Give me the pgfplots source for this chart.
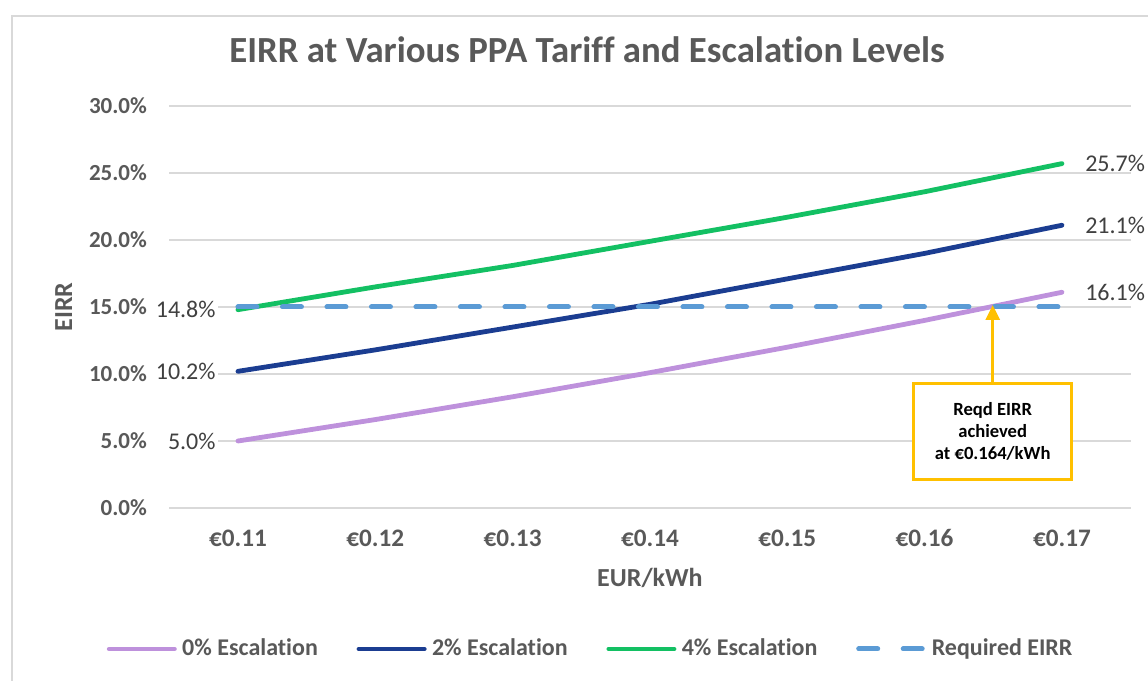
\documentclass[border=0pt]{standalone}
\usepackage{fontspec}
\setmainfont{Carlito}[Ligatures=NoCommon]
\usepackage{pgfplots}
\pgfplotsset{compat=1.18}
\usetikzlibrary{arrows.meta}
\definecolor{cP}{HTML}{BE91DC}
\definecolor{cB}{HTML}{1B3D91}
\definecolor{cG}{HTML}{13C063}
\definecolor{cR}{HTML}{5B9BD5}
\definecolor{txt}{HTML}{595959}
\definecolor{lbl}{HTML}{404040}
\definecolor{grd}{HTML}{D9D9D9}
\definecolor{ybox}{HTML}{FFC000}
\begin{document}
\begin{tikzpicture}
\useasboundingbox (0pt,0pt) rectangle (574pt,340.5pt);
\draw[grd, line width=1pt] (6pt,-5pt) -- (6pt,332.5pt) -- (590pt,332.5pt);
\begin{axis}[
  at={(84.65pt,86.5pt)}, anchor=south west,
  scale only axis, width=480.65pt, height=201pt,
  xmin=0.105, xmax=0.175, ymin=0, ymax=30,
  clip=false,
  axis line style={draw=none},
  major tick length=0pt,
  ymajorgrids, grid style={grd, line width=0.75pt},
  xtick={0.11,0.12,0.13,0.14,0.15,0.16,0.17},
  xticklabels={€0.11,€0.12,€0.13,€0.14,€0.15,€0.16,€0.17},
  ytick={0,5,10,15,20,25,30},
  yticklabels={0.0\%,5.0\%,10.0\%,15.0\%,20.0\%,25.0\%,30.0\%},
  yticklabel style={font=\bfseries\fontsize{11.5}{13}\selectfont, text=txt, inner sep=0pt, xshift=-11pt},
  xticklabel style={font=\bfseries\fontsize{12.6}{14}\selectfont, text=txt, inner sep=0pt, anchor=base, yshift=-19.3pt},
  title={EIRR at Various PPA Tariff and Escalation Levels},
  title style={at={(axis description cs:0.4345,1.0777)}, anchor=base, xshift=0pt, yshift=0pt, font=\bfseries\fontsize{18.4}{21}\selectfont, text=txt, inner sep=0pt},
  xlabel={EUR/kWh},
  xlabel style={at={(axis description cs:0.5,-0.1741)}, anchor=center, xshift=0pt, yshift=0pt, font=\bfseries\fontsize{13}{15}\selectfont, text=txt, inner sep=0pt},
  legend columns=4,
  legend style={at={(axis description cs:-0.0679,-0.3507)}, anchor=west, draw=none, fill=none, inner sep=0pt, column sep=0pt, font=\bfseries\fontsize{12}{14}\selectfont, text=txt, nodes={inner sep=0pt}},
  legend image code/.code={\path (0pt,0pt) (35pt,0pt); \draw[#1] (1.2pt,0pt) -- (33.8pt,0pt);},
]
\addplot[cP, line width=2.4pt, line cap=round] coordinates {(0.11,5.0) (0.12,6.6) (0.13,8.3) (0.14,10.1) (0.15,12.0) (0.16,14.0) (0.17,16.1)};
\addlegendentry{\makebox[87.5pt][l]{\hspace{1.5pt}0\% Escalation}}
\addplot[cB, line width=2.4pt, line cap=round] coordinates {(0.11,10.2) (0.12,11.8) (0.13,13.5) (0.14,15.2) (0.15,17.1) (0.16,19.0) (0.17,21.1)};
\addlegendentry{\makebox[87.5pt][l]{\hspace{1.5pt}2\% Escalation}}
\addplot[cG, line width=2.4pt, line cap=round] coordinates {(0.11,14.8) (0.12,16.5) (0.13,18.1) (0.14,19.9) (0.15,21.7) (0.16,23.6) (0.17,25.7)};
\addlegendentry{\makebox[87.5pt][l]{\hspace{1.5pt}4\% Escalation}}
\addplot[cR, line width=2.5pt, line cap=round, dash pattern=on 9.5pt off 12.75pt] coordinates {(0.11,15.0) (0.12,15.0) (0.13,15.0) (0.14,15.0) (0.15,15.0) (0.16,15.0) (0.17,15.0)};
\addlegendentry{\makebox[87.5pt][l]{\hspace{1.5pt}Required EIRR}}
\addplot[draw=none, forget plot, nodes near coords, point meta=explicit symbolic,
  every node near coord/.style={anchor=east, xshift=-10pt, inner sep=1pt, fill=white, text=lbl, font=\fontsize{12}{14}\selectfont}]
  coordinates {(0.11,14.8)[14.8\%] (0.11,10.2)[10.2\%] (0.11,5.0)[5.0\%]};
\addplot[draw=none, forget plot, nodes near coords, point meta=explicit symbolic,
  every node near coord/.style={anchor=west, xshift=10.5pt, inner sep=1pt, text=lbl, font=\fontsize{12}{14}\selectfont}]
  coordinates {(0.17,25.7)[25.7\%] (0.17,21.1)[21.1\%] (0.17,16.1)[16.1\%]};
\draw[ybox, line width=1.5pt, -{Triangle[width=7pt, length=7.5pt]}] (axis cs:0.16496,9.33) -- (axis cs:0.16496,15.15);
\node[draw=ybox, line width=1.5pt, fill=white, minimum width=79pt, minimum height=48pt, inner sep=0pt, align=center, font=\bfseries\fontsize{9.3}{11}\selectfont, text=black] at (axis cs:0.16496,5.71) {Reqd EIRR\\achieved\\at €0.164/kWh};
\end{axis}
\node[rotate=90, anchor=center, inner sep=0pt, text=txt, font=\bfseries\fontsize{13}{15}\selectfont] at (31.8pt,187pt) {EIRR};
\end{tikzpicture}
\end{document}
